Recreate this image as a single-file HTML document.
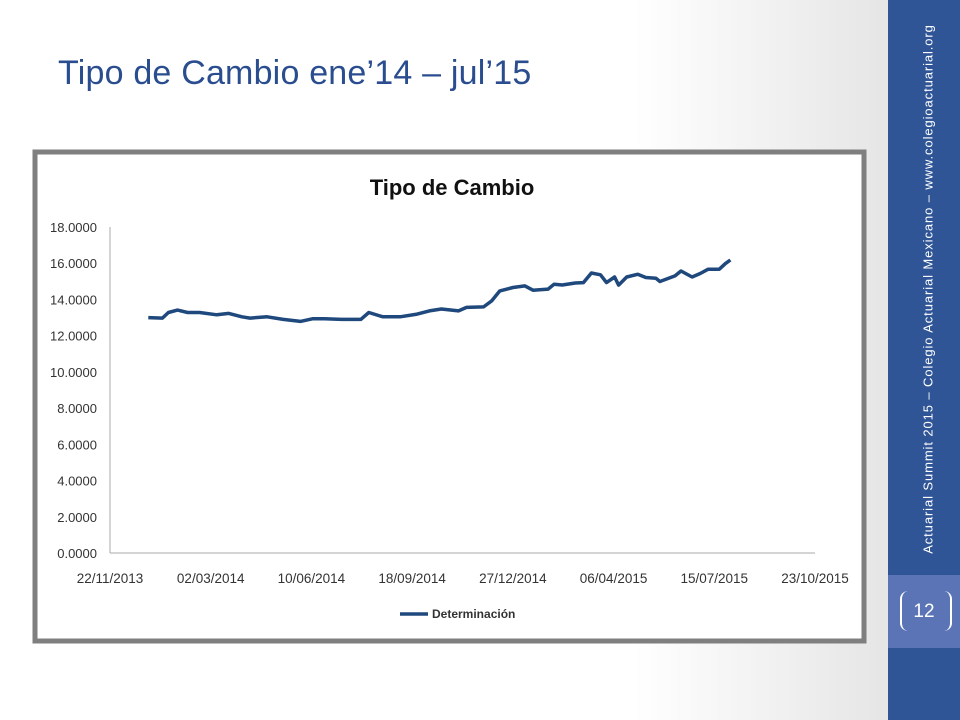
<!DOCTYPE html>
<html><head><meta charset="utf-8"><style>
body{margin:0;width:960px;height:720px;overflow:hidden;font-family:"Liberation Sans",sans-serif;}
#slide{position:relative;width:960px;height:720px;background:linear-gradient(90deg,#fff 0%,#fff 66%,#e6e6e6 92%);}
#sidebar{position:absolute;left:888px;top:0;width:72px;height:720px;background:#2f5597;}
#pnum{position:absolute;left:888px;top:575px;width:72px;height:73px;background:#5a74b6;}
</style></head><body>
<div id="slide">
<div style="position:absolute;left:58px;top:54px;font-size:34px;color:#2a4d8f;letter-spacing:0.2px;">Tipo de Cambio ene’14 – jul’15</div>
<div id="sidebar"></div>
<div style="position:absolute;left:928px;top:289px;transform:translate(-50%,-50%) rotate(-90deg);white-space:nowrap;color:#fff;font-size:13px;letter-spacing:0.9px;">Actuarial Summit 2015 – Colegio Actuarial Mexicano – www.colegioactuarial.org</div>
<div id="pnum">
<div style="position:absolute;left:12px;top:16px;width:48px;height:40px;border-left:2px solid #fff;border-right:2px solid #fff;border-radius:8px;"></div>
<div style="position:absolute;left:0;width:72px;top:26px;text-align:center;color:#fff;font-size:19px;">12</div>
</div>
<svg width="960" height="720" style="position:absolute;left:0;top:0">
<rect x="35" y="152" width="829" height="489" fill="#fff" stroke="#7f7f7f" stroke-width="5"/>
<text x="452" y="195" text-anchor="middle" font-size="22" font-weight="bold" fill="#111" style="font-family:'Liberation Sans Narrow','Liberation Sans',sans-serif">Tipo de Cambio</text>
<g id="axes"></g>
<path id="line" fill="none" stroke="#1f497d" stroke-width="3.5" stroke-linejoin="round"/>
<line x1="400" y1="614" x2="428" y2="614" stroke="#1f497d" stroke-width="3.5"/>
<text x="432" y="618" font-size="12" font-weight="bold" fill="#333">Determinación</text>
</svg>
</div>
<script>
const dayOffsets=[38,52,58,67,77,89,106,118,131,139,156,172,189,201,213,230,249,257,271,288,305,317,329,346,354,371,379,387,400,412,420,435,441,449,462,470,478,487,493,501,505,513,524,532,542,546,561,567,578,586,594,605,611,616];
const rates=[13.00,12.97,13.28,13.41,13.28,13.28,13.15,13.23,13.04,12.97,13.04,12.90,12.79,12.93,12.93,12.90,12.90,13.28,13.04,13.04,13.19,13.37,13.47,13.37,13.56,13.59,13.92,14.47,14.66,14.75,14.51,14.57,14.84,14.80,14.91,14.93,15.46,15.36,14.93,15.24,14.79,15.24,15.39,15.21,15.17,14.99,15.30,15.57,15.24,15.43,15.67,15.67,15.98,16.18];
const yTicks=[0,2,4,6,8,10,12,14,16,18];
const xTickLabels=["22/11/2013","02/03/2014","10/06/2014","18/09/2014","27/12/2014","06/04/2015","15/07/2015","23/10/2015"];
const xTickDays=[0,100,200,300,400,500,600,700];
const X=d=>110+d*705/700;
const Y=v=>553-v*(553-227)/18;
const NS="http://www.w3.org/2000/svg";
const g=document.getElementById('axes');
function mk(t,a){const e=document.createElementNS(NS,t);for(const k in a)e.setAttribute(k,a[k]);g.appendChild(e);return e;}
let e=mk('line',{x1:110,y1:227,x2:110,y2:553,stroke:'#aaa'});


e=mk('line',{x1:110,y1:553,x2:815,y2:553,stroke:'#aaa'});


yTicks.forEach(v=>{const t=mk('text',{x:97,y:Y(v)+5,'text-anchor':'end','font-size':13,fill:'#333'});t.textContent=v.toFixed(4);

});
xTickLabels.forEach((l,i)=>{const t=mk('text',{x:X(xTickDays[i]),y:583,'text-anchor':'middle','font-size':13.5,fill:'#333'});t.textContent=l;

});
document.getElementById('line').setAttribute('d',dayOffsets.map((d,i)=>(i?'L':'M')+X(d).toFixed(1)+','+Y(rates[i]).toFixed(1)).join(''));
</script>
</body></html>
